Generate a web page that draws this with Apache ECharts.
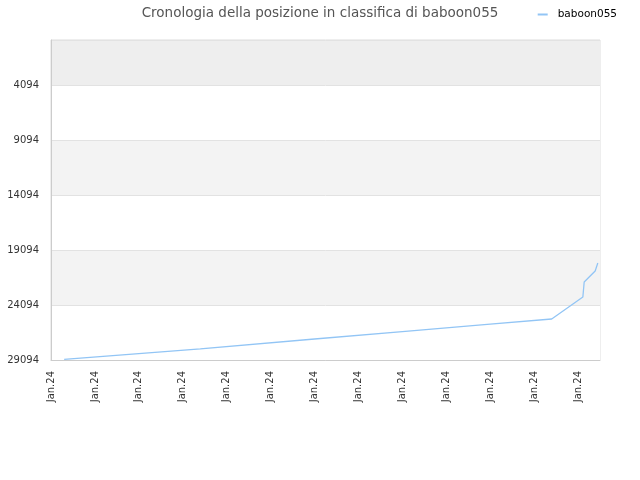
<!DOCTYPE html>
<html>
<head>
<meta charset="utf-8">
<script src="https://cdn.jsdelivr.net/npm/echarts@6/dist/echarts.min.js"></script>
<style>
  html, body { margin: 0; padding: 0; background: #fff; }
  #chart { width: 640px; height: 480px; }
</style>
</head>
<body>
<div id="chart"></div>
<script>
// ranking history
const seriesName = 'baboon055';
const steps = [3, 34, 60, 80, 100, 114, 121.1, 121.4, 123.9, 124.5];
const ranks = [29030, 28076, 27185, 26521, 25840, 25367, 23367, 22003, 21003, 20276];
const xTickLabel = 'Jan.24';
const worstRank = 29094;
const rankTicks = [29094, 24094, 19094, 14094, 9094, 4094];

const chart = echarts.init(document.getElementById('chart'));

// y is drawn as distance from the bottom rank so ticks land on 4094, 9094, ...
const points = steps.map((s, i) => [s, worstRank - ranks[i]]);

const option = {
    animation: false,
    textStyle: { fontFamily: 'DejaVu Sans' },
    title: {
        text: 'Cronologia della posizione in classifica di ' + seriesName,
        left: 'center',
        top: 1,
        textStyle: { fontSize: 13.5, fontWeight: 'normal', color: '#555' }
    },
    legend: {
        data: [seriesName],
        right: 18,
        top: 4,
        icon: 'rect',
        itemWidth: 10,
        itemHeight: 2,
        textStyle: { fontSize: 10.5, color: '#000', padding: [0, 0, 0, 5] }
    },
    grid: { left: 51, right: 40, top: 40, bottom: 120, show: true, borderColor: '#ddd', borderWidth: 1 },
    xAxis: {
        type: 'value',
        min: 0,
        max: 125,
        interval: 10,
        axisLine: { lineStyle: { color: '#ccc' } },
        axisTick: { show: false },
        splitLine: { show: false },
        axisLabel: {
            rotate: 90,
            fontSize: 10,
            color: '#333',
            margin: 11,
            showMaxLabel: false,
            formatter: () => xTickLabel
        }
    },
    yAxis: {
        type: 'value',
        min: 0,
        max: worstRank,
        interval: 5000,
        axisLine: { show: true, lineStyle: { color: '#ccc' } },
        axisTick: { show: false },
        splitLine: { lineStyle: { color: '#e2e2e2' } },
        splitArea: { show: true, areaStyle: { color: ['#fff', '#f3f3f3', '#fff', '#f3f3f3', '#fff', '#eee'] } },
        axisLabel: {
            fontSize: 10,
            color: '#333',
            margin: 12,
            showMaxLabel: false,
            formatter: v => rankTicks.includes(worstRank - v) ? String(worstRank - v) : ''
        }
    },
    series: [{
        name: seriesName,
        type: 'line',
        data: points,
        showSymbol: false,
        lineStyle: { width: 1.3, color: '#92c5f5' },
        itemStyle: { color: '#92c5f5' }
    }]
};

chart.setOption(option);
</script>
</body>
</html>
